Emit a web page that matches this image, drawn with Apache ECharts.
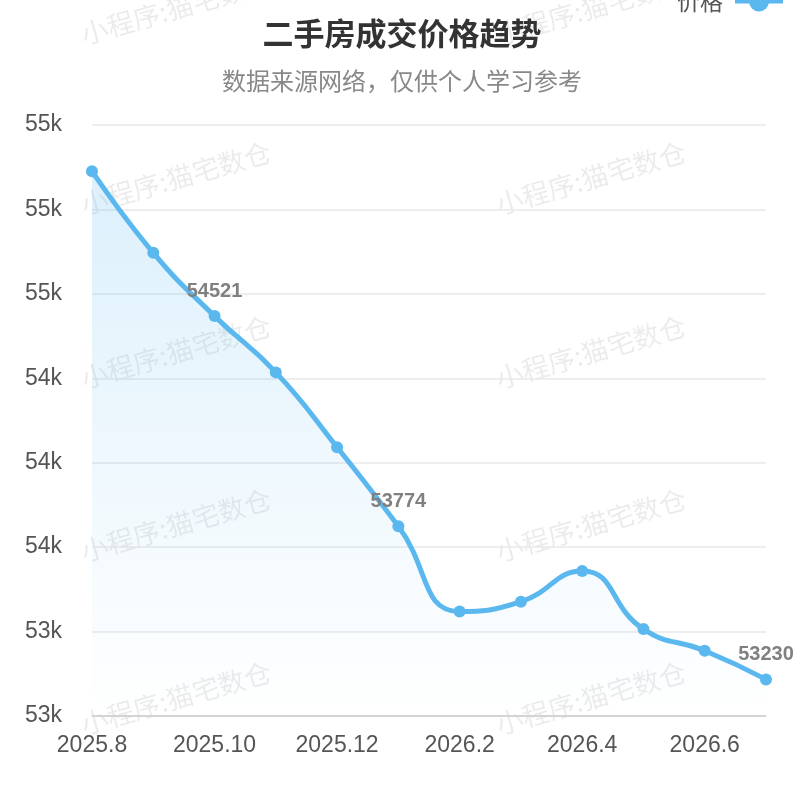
<!DOCTYPE html>
<html>
<head>
<meta charset="utf-8">
<script src="https://cdn.jsdelivr.net/npm/echarts@6/dist/echarts.min.js"></script>
<style>
html,body{margin:0;padding:0;background:#fff;}
#chart{width:804px;height:788px;}
</style>
</head>
<body>
<div id="chart"></div>
<script>
const categories = ['2025.8','2025.9','2025.10','2025.11','2025.12','2026.1','2026.2','2026.3','2026.4','2026.5','2026.6','2026.7'];
const prices = [55036, 54746, 54521, 54321, 54055, 53774, 53471, 53506, 53615, 53409, 53332, 53230];
const labeledIndices = [2, 5, 11];
const titleText = '二手房成交价格趋势';
const subtitleText = '数据来源网络，仅供个人学习参考';
const seriesName = '价格';
const watermarkText = '小程序:猫宅数仓';

const FONT = "'Liberation Sans', 'Noto Sans CJK SC', sans-serif";
const CJK = "'Noto Sans CJK SC', 'Liberation Sans', sans-serif";

const chart = echarts.init(document.getElementById('chart'));

const wmCols = [176, 591];
const wmRows = [8, 178, 352, 525, 698];
const graphics = [];
wmRows.forEach(function (y) {
  wmCols.forEach(function (x) {
    graphics.push({
      type: 'text',
      x: x, y: y,
      rotation: 16 * Math.PI / 180,
      z: -10,
      silent: true,
      style: {
        text: watermarkText,
        fontSize: 27,
        fontFamily: CJK,
        fill: 'rgba(0,0,0,0.08)',
        align: 'center',
        verticalAlign: 'middle'
      }
    });
  });
});

const seriesData = prices.map(function (v, i) {
  return {
    value: v,
    label: { show: labeledIndices.indexOf(i) >= 0 }
  };
});

chart.setOption({
  backgroundColor: '#fff',
  animation: false,
  textStyle: { fontFamily: FONT },
  graphic: graphics,
  title: {
    text: titleText,
    subtext: subtitleText,
    left: 'center',
    top: 13,
    itemGap: 20,
    textStyle: { fontSize: 31, fontWeight: 'bold', color: '#333', fontFamily: CJK },
    subtextStyle: { fontSize: 24, color: '#888', fontFamily: CJK }
  },
  legend: {
    data: [seriesName],
    right: 14,
    top: -15,
    align: 'right',
    itemWidth: 48,
    itemHeight: 25,
    itemGap: 10,
    lineStyle: { width: 4 },
    textStyle: { fontSize: 23, color: '#555', fontFamily: CJK, padding: [0, 7, 0, 0] }
  },
  grid: { left: 92, right: 38, top: 125, bottom: 72 },
  xAxis: {
    type: 'category',
    data: categories,
    boundaryGap: false,
    axisLine: { lineStyle: { color: '#ccc', width: 1.5 } },
    axisTick: { show: false },
    axisLabel: { interval: 1, fontSize: 23, color: '#555', margin: 18 }
  },
  yAxis: {
    type: 'value',
    min: 53100,
    max: 55200,
    interval: 300,
    axisLine: { show: false },
    axisTick: { show: false },
    splitLine: { lineStyle: { color: '#e8e8e8', width: 1.5 } },
    axisLabel: {
      fontSize: 23,
      color: '#555',
      margin: 30,
      formatter: function (v) { return (v / 1000).toFixed(0) + 'k'; }
    }
  },
  series: [{
    name: seriesName,
    type: 'line',
    data: seriesData,
    smooth: true,
    symbol: 'circle',
    symbolSize: 12,
    itemStyle: { color: '#5ab8ef' },
    lineStyle: { width: 5, color: '#5ab8ef' },
    label: {
      position: 'top',
      distance: 9,
      fontSize: 20,
      fontWeight: 'bold',
      color: '#808080'
    },
    areaStyle: {
      color: new echarts.graphic.LinearGradient(0, 0, 0, 1, [
        { offset: 0, color: 'rgba(90,184,239,0.30)' },
        { offset: 1, color: 'rgba(90,184,239,0)' }
      ])
    }
  }]
});
</script>
</body>
</html>
